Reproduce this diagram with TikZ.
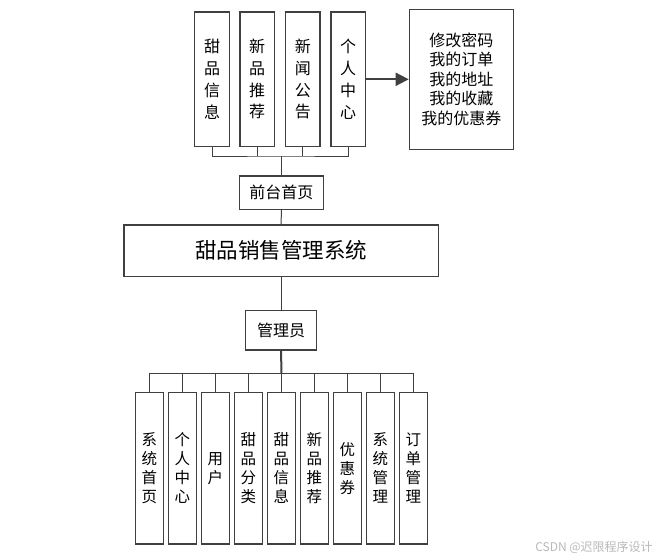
\documentclass[tikz,border=0pt]{standalone}
\usepackage{fontspec}
\setmainfont{Noto Sans CJK SC}
\usetikzlibrary{arrows.meta}
\definecolor{ln}{HTML}{404040}
\tikzset{
  bx/.style={draw=ln, line width=1.2pt, fill=white, inner sep=0pt, align=center},
  topv/.style={bx, minimum width=34.5pt, minimum height=134.7pt, font=\fontsize{16}{21.7}\selectfont},
  botv/.style={bx, minimum width=28pt, minimum height=151.7pt, font=\fontsize{15.5}{19}\selectfont},
  conn/.style={draw=ln, line width=1pt},
}
\begin{document}
\begin{tikzpicture}[x=1pt,y=-1pt]
\useasboundingbox[fill=white] (0,0) rectangle (662,560);
% top boxes
\node[topv] (t1) at (212,79.3) {甜\\品\\信\\息};
\node[topv] (t2) at (257.2,79.3) {新\\品\\推\\荐};
\node[topv] (t3) at (302.8,79.3) {新\\闻\\公\\告};
\node[topv] (t4) at (348.2,79.3) {个\\人\\中\\心};
\node[bx, minimum width=104pt, minimum height=139.7pt, font=\fontsize{16}{19.5}\selectfont] (rb) at (461.3,79.3) {修改密码\\我的订单\\我的地址\\我的收藏\\我的优惠券};
\node[bx, minimum width=84pt, minimum height=33.3pt, font=\fontsize{16}{19}\selectfont] (qt) at (281.3,192.7) {前台首页};
\node[bx, minimum width=314.3pt, minimum height=51.7pt, font=\fontsize{21.5}{24}\selectfont] (main) at (281.2,250.8) {甜品销售管理系统};
\node[bx, minimum width=71pt, minimum height=39.3pt, font=\fontsize{16}{19}\selectfont] (adm) at (281.2,330.3) {管理员};
% bottom boxes
\node[botv] (b1) at (149.3,468.2) {系\\统\\首\\页};
\node[botv] (b2) at (182.3,468.2) {个\\人\\中\\心};
\node[botv] (b3) at (215.3,468.2) {用\\户};
\node[botv] (b4) at (248.3,468.2) {甜\\品\\分\\类};
\node[botv] (b5) at (281.3,468.2) {甜\\品\\信\\息};
\node[botv] (b6) at (314.3,468.2) {新\\品\\推\\荐};
\node[botv] (b7) at (347.3,468.2) {优\\惠\\券};
\node[botv] (b8) at (380.3,468.2) {系\\统\\管\\理};
\node[botv] (b9) at (413.3,468.2) {订\\单\\管\\理};
% top connectors
\coordinate (tb) at (281.3,156);
\draw[conn] (t1.south) |- (tb) -| (t4.south);
\draw[conn] (t2.south) -- (t2.south |- tb);
\draw[conn] (t3.south) -- (t3.south |- tb);
\draw[conn] (tb) -- (qt.north);
\draw[conn] (qt.south) -- (main.north);
\draw[conn] (main.south) -- (adm.north);
\draw[draw=ln, line width=2pt, -{Triangle[length=13pt,width=13pt]}] (t4.east) -- (rb.west);
% bottom connectors
\coordinate (bb) at (281.3,373.3);
\draw[draw=ln, line width=2pt] (adm.south) -- (bb);
\draw[conn] (b1.north) |- (bb) -| (b9.north);
\foreach \i in {2,...,8} {\draw[conn] (b\i.north) -- (b\i.north |- bb);}
% watermark
\node[text=gray!55, font=\fontsize{12}{14}\selectfont, inner sep=0pt] (wm) at (594,547) {CSDN @迟限程序设计};
\end{tikzpicture}
\end{document}
